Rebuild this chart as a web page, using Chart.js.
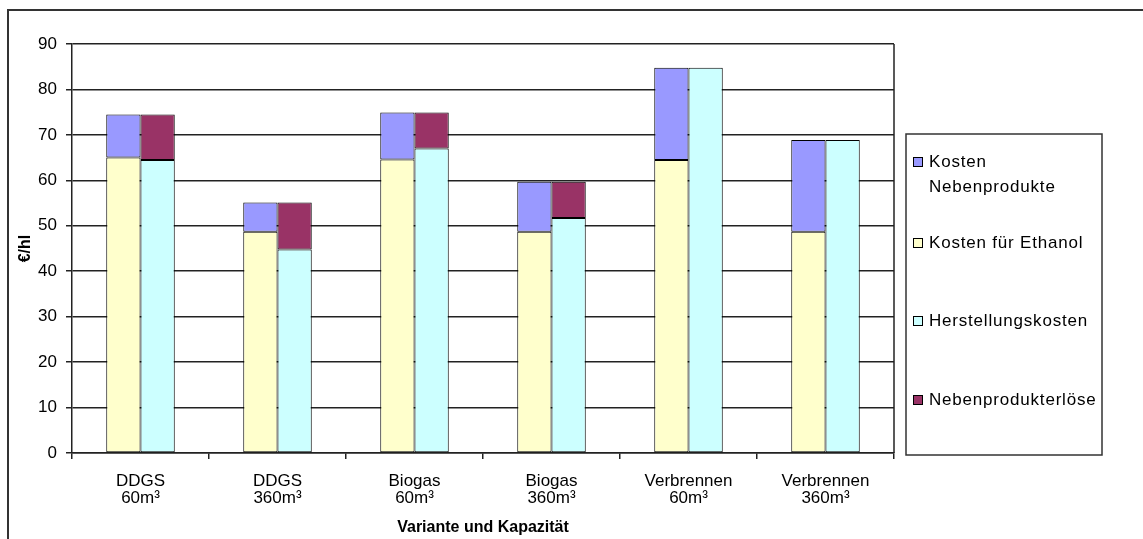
<!DOCTYPE html>
<html>
<head>
<meta charset="utf-8">
<script src="https://cdn.jsdelivr.net/npm/chart.js@4"></script>
<style>
  body { margin: 0; background: #fff; }
  #wrap { width: 1143px; height: 539px; }
</style>
</head>
<body>
<div id="wrap"><canvas id="grafik" width="1143" height="539"></canvas></div>
<script>
// Daten
const varianten = [['DDGS', '60m³'], ['DDGS', '360m³'], ['Biogas', '60m³'], ['Biogas', '360m³'], ['Verbrennen', '60m³'], ['Verbrennen', '360m³']];
const kostenEthanol = [65, 48.7, 64.6, 48.7, 64.5, 48.7];
const kostenNebenprodukte = [9.5, 6.4, 10.3, 11, 20.3, 20.2];
const herstellungskosten = [64.5, 44.8, 67, 51.7, 84.8, 68.9];
const nebenprodukterloese = [10, 10.3, 7.9, 8, 0, 0];
const yTicks = [0, 10, 20, 30, 40, 50, 60, 70, 80, 90];

const schrift = 'Arial, "Liberation Sans", sans-serif';

// Rahmen links/oben und rechter Rand der Zeichenflaeche
const rahmenPlugin = {
    id: 'rahmen',
    beforeDraw(chart) {
        const ctx = chart.ctx;
        ctx.save();
        ctx.strokeStyle = '#333';
        ctx.lineWidth = 2;
        ctx.beginPath();
        ctx.moveTo(8, chart.height);
        ctx.lineTo(8, 10);
        ctx.lineTo(chart.width, 10);
        ctx.stroke();
        ctx.restore();
    },
    beforeDatasetsDraw(chart) {
        const a = chart.chartArea;
        const ctx = chart.ctx;
        ctx.save();
        ctx.strokeStyle = '#222';
        ctx.lineWidth = 1.5;
        ctx.beginPath();
        ctx.moveTo(a.right, a.top);
        ctx.lineTo(a.right, a.bottom);
        ctx.stroke();
        ctx.restore();
    }
};

// Legende im Kasten rechts (mehrzeilige Eintraege)
const legendePlugin = {
    id: 'legende',
    afterDraw(chart) {
        const ctx = chart.ctx;
        const reihenfolge = [1, 0, 2, 3];
        const zeilenY = [162, 243, 321, 400];
        ctx.save();
        ctx.strokeStyle = '#333';
        ctx.lineWidth = 1.5;
        ctx.strokeRect(906, 134, 196, 321);
        ctx.font = '17px ' + schrift;
        ctx.letterSpacing = '0.8px';
        ctx.textBaseline = 'middle';
        ctx.fillStyle = '#000';
        reihenfolge.forEach((idx, i) => {
            const ds = chart.data.datasets[idx];
            const y = zeilenY[i];
            ctx.fillStyle = ds.backgroundColor;
            ctx.fillRect(913, y - 5, 9, 9);
            ctx.strokeStyle = '#000';
            ctx.lineWidth = 1;
            ctx.strokeRect(913.5, y - 4.5, 9, 9);
            ctx.fillStyle = '#000';
            const zeilen = Array.isArray(ds.legendeText) ? ds.legendeText : [ds.legendeText];
            zeilen.forEach((t, j) => ctx.fillText(t, 929, y + j * 25));
        });
        ctx.restore();
    }
};

new Chart(document.getElementById('grafik').getContext('2d'), {
    type: 'bar',
    data: {
        labels: varianten,
        datasets: [
            { label: 'Kosten für Ethanol', legendeText: 'Kosten für Ethanol', data: kostenEthanol, stack: 'a', backgroundColor: '#FFFFCC' },
            { label: 'Kosten Nebenprodukte', legendeText: ['Kosten', 'Nebenprodukte'], data: kostenNebenprodukte, stack: 'a', backgroundColor: '#9999FF' },
            { label: 'Herstellungskosten', legendeText: 'Herstellungskosten', data: herstellungskosten, stack: 'b', backgroundColor: '#CCFFFF' },
            { label: 'Nebenprodukterlöse', legendeText: 'Nebenprodukterlöse', data: nebenprodukterloese, stack: 'b', backgroundColor: '#993366' }
        ].map(d => Object.assign(d, { borderColor: '#000', borderWidth: 1, borderSkipped: false, categoryPercentage: 0.5, barPercentage: 1.0 }))
    },
    options: {
        responsive: false,
        animation: false,
        layout: { padding: { left: 14, top: 44, right: 249, bottom: 2 } },
        plugins: {
            legend: { display: false },
            tooltip: { enabled: false }
        },
        scales: {
            x: {
                stacked: true,
                afterFit(scale) { scale.height = 84; },
                grid: { drawOnChartArea: false, drawTicks: true, tickLength: 6, color: '#222', lineWidth: 1.5 },
                border: { color: '#222', width: 1.5 },
                ticks: { color: '#000', font: { family: schrift, size: 17, lineHeight: 1.05 }, padding: 13, maxRotation: 0, autoSkip: false },
                title: { display: true, text: 'Variante und Kapazität', color: '#000', font: { family: schrift, size: 16, weight: 'bold' }, padding: { top: 2, bottom: 0 } }
            },
            y: {
                stacked: true,
                min: 0,
                max: 90,
                afterBuildTicks(scale) { scale.ticks = yTicks.map(v => ({ value: v })); },
                afterFit(scale) { scale.width = 58; },
                grid: { color: '#222', lineWidth: 1.5, tickLength: 6 },
                border: { color: '#222', width: 1.5 },
                ticks: { color: '#000', font: { family: schrift, size: 17 }, padding: 9 },
                title: { display: true, text: '€/hl', color: '#000', font: { family: schrift, size: 16, weight: 'bold' }, padding: { top: 2, bottom: 0 } }
            }
        }
    },
    plugins: [rahmenPlugin, legendePlugin]
});
</script>
</body>
</html>
